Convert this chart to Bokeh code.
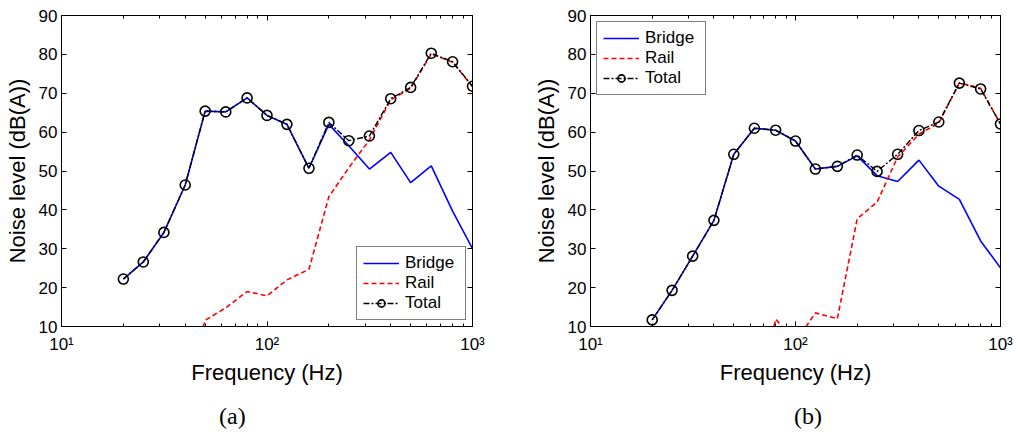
from bokeh.plotting import figure
from bokeh.layouts import row, column
from bokeh.models import (Range1d, LogAxis, LinearAxis, FixedTicker, Div)
from bokeh.embed import file_html
from bokeh.resources import INLINE

# 1/3-octave band centre frequencies (Hz)
freq = [20, 25, 31.5, 40, 50, 63, 80, 100, 125, 160, 200, 250, 315, 400, 500, 630, 800, 1000]

# (a)
bridge_a = [22.2, 26.6, 34.2, 46.4, 65.4, 65.2, 68.8, 64.3, 62.0, 50.7, 62.0, 56.5, 50.5, 54.8, 47.0, 51.3, 39.7, 30.0]
rail_a_freq = [40, 50, 63, 80, 100, 125, 160, 200, 250, 315, 400, 500, 630, 800, 1000]
rail_a = [-6.0, 11.6, 14.8, 19.0, 17.9, 22.0, 24.7, 43.4, 50.8, 58.0, 68.3, 71.3, 80.1, 78.0, 71.7]
total_a = [22.2, 26.6, 34.2, 46.4, 65.4, 65.2, 68.8, 64.3, 62.0, 50.7, 62.5, 57.8, 59.0, 68.6, 71.5, 80.3, 78.1, 71.8]

# (b)
bridge_b = [11.7, 19.3, 28.1, 37.3, 54.3, 61.0, 60.5, 57.7, 50.5, 51.2, 53.9, 48.8, 47.3, 52.8, 46.1, 42.7, 32.0, 25.1]
rail_b_freq = [63, 80, 100, 125, 160, 200, 250, 315, 400, 500, 630, 800, 1000]
rail_b = [-12.0, 11.9, 6.0, 13.5, 12.0, 37.7, 42.0, 53.6, 59.5, 62.3, 72.7, 71.3, 62.1]
total_b = [11.7, 19.3, 28.1, 37.3, 54.3, 61.0, 60.5, 57.7, 50.5, 51.2, 54.1, 49.9, 54.3, 60.4, 62.6, 72.6, 71.1, 62.1]

y_ticks = [10, 20, 30, 40, 50, 60, 70, 80, 90]
x_ticks = [10, 100, 1000]
x_minor = [20, 30, 40, 50, 60, 70, 80, 90, 200, 300, 400, 500, 600, 700, 800, 900]
x_tick_labels = {10: "10¹", 100: "10²", 1000: "10³"}

FONT = "Liberation Sans"


def make_panel(bridge, rf, rail, total, width, bl, br, legend_loc):
    p = figure(width=width, height=397, x_axis_type="log",
               x_range=Range1d(10, 1000), y_range=Range1d(10, 90),
               output_backend="svg", toolbar_location=None,
               min_border_left=bl, min_border_right=br,
               min_border_top=15, min_border_bottom=71,
               background_fill_color="white", border_fill_color="white")
    p.grid.visible = False
    p.outline_line_color = "black"
    p.outline_line_width = 1

    # bottom axis
    xa = p.xaxis[0]
    xa.ticker = FixedTicker(ticks=x_ticks, minor_ticks=x_minor)
    xa.major_label_overrides = x_tick_labels
    xa.axis_label = "Frequency (Hz)"
    # left axis
    ya = p.yaxis[0]
    ya.ticker = FixedTicker(ticks=y_ticks)
    ya.axis_label = "Noise level (dB(A))"

    for ax in (xa, ya):
        ax.axis_line_color = "black"
        ax.major_tick_in = 5
        ax.major_tick_out = 0
        ax.minor_tick_in = 3
        ax.minor_tick_out = 0
        ax.major_tick_line_color = "black"
        ax.minor_tick_line_color = "black"
        ax.major_label_text_font = FONT
        ax.major_label_text_font_size = "17px"
        ax.major_label_text_color = "black"
        ax.axis_label_text_font = FONT
        ax.axis_label_text_font_size = "22px"
        ax.axis_label_text_font_style = "normal"
        ax.axis_label_text_color = "black"
    ya.minor_tick_line_color = None
    xa.major_label_standoff = 8
    xa.axis_label_standoff = 3
    ya.major_label_standoff = 4
    ya.axis_label_standoff = 6

    # top and right axes: ticks only, no labels
    top = LogAxis(ticker=FixedTicker(ticks=x_ticks, minor_ticks=x_minor))
    right = LinearAxis(ticker=FixedTicker(ticks=y_ticks))
    for ax in (top, right):
        ax.major_tick_in = 5
        ax.major_tick_out = 0
        ax.minor_tick_in = 3
        ax.minor_tick_out = 0
        ax.major_tick_line_color = "black"
        ax.minor_tick_line_color = "black"
        ax.major_label_text_color = None
        ax.major_label_text_font_size = "1px"
        ax.major_label_standoff = 0
        ax.axis_line_color = "black"
    right.minor_tick_line_color = None
    p.add_layout(top, "above")
    p.add_layout(right, "right")

    p.line(freq, bridge, line_color="#0000ff", line_width=1.6, legend_label="Bridge")
    p.line(rf, rail, line_color="#ff0000", line_width=1.6, line_dash="5 3", legend_label="Rail")
    p.line(freq, total, line_color="black", line_width=1.4, line_dash="6 2 2 2", legend_label="Total")
    p.scatter(freq, total, marker="circle", size=10, line_color="black", line_width=1.6,
              fill_color=None, legend_label="Total")

    lg = p.legend[0]
    lg.location = legend_loc
    lg.label_text_font = FONT
    lg.label_text_font_size = "17px"
    lg.label_text_color = "black"
    lg.border_line_color = "black"
    lg.border_line_width = 1
    lg.padding = 6
    lg.spacing = 0
    lg.glyph_width = 36
    lg.glyph_height = 18
    lg.label_height = 18
    lg.label_standoff = 6
    lg.label_width = 54
    lg.margin = 6
    lg.background_fill_alpha = 1.0
    return p


def caption(text, width, left):
    html = ('<div style="position:absolute; left:%dpx; top:7px; font-family:\'Liberation Serif\';'
            ' font-size:24px; line-height:1; color:black; white-space:nowrap">%s</div>' % (left, text))
    return Div(text=html, width=width, height=35, margin=0,
               styles={"position": "relative", "overflow": "visible"})


p1 = make_panel(bridge_a, rail_a_freq, rail_a, total_a, 510, 61, 38, "bottom_right")
p2 = make_panel(bridge_b, rail_b_freq, rail_b, total_b, 507, 80, 17, "top_left")
c1 = caption("(a)", 510, 219)
c2 = caption("(b)", 507, 284)

layout = column(row(p1, p2), row(c1, c2))
open("out.html", "w").write(file_html(layout, INLINE))
